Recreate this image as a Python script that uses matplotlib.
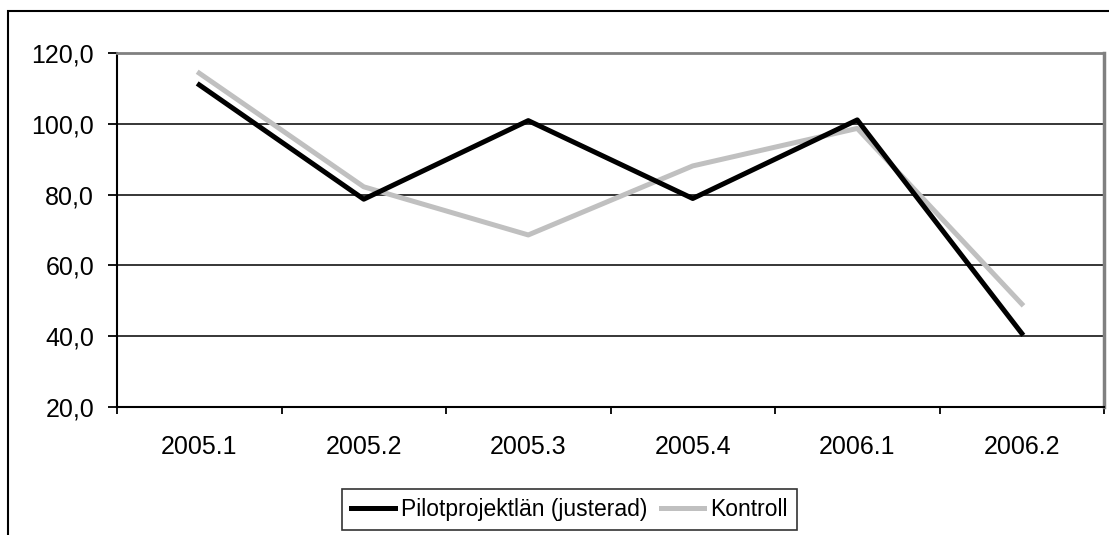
import matplotlib
matplotlib.use("Agg")
import matplotlib.pyplot as plt
from matplotlib.patches import Rectangle
from matplotlib.ticker import FixedLocator, NullFormatter

plt.rcParams['font.family'] = ['Liberation Sans', 'DejaVu Sans']

# kvartal och index per serie
periods = ["2005.1", "2005.2", "2005.3", "2005.4", "2006.1", "2006.2"]
pilot = [111.0, 78.7, 100.9, 78.9, 101.1, 40.8]
kontroll = [114.3, 82.2, 68.6, 88.1, 98.7, 49.1]
yticks = [20, 40, 60, 80, 100, 120]

W, H = 1109, 535
fig = plt.figure(figsize=(W / 100, H / 100), dpi=100)

# ram runt hela diagrammet
fig.patches.append(Rectangle((8 / W, -0.2), 1.2, (H - 11) / H + 0.2, transform=fig.transFigure,
                             fill=False, edgecolor="black", linewidth=1.5))

ax = fig.add_axes([117 / W, (H - 407) / H, 987 / W, 354 / H])

x = [i + 0.5 for i in range(len(periods))]
ax.plot(x, pilot, color="black", linewidth=3.6, label="Pilotprojektlän (justerad)", zorder=3)
ax.plot(x, kontroll, color="#c0c0c0", linewidth=3.6, label="Kontroll", zorder=2)

ax.set_xlim(0, len(periods))
ax.set_ylim(20, 120)
ax.set_yticks(yticks)
ax.set_yticklabels([f"{v:.1f}".replace(".", ",") for v in yticks])
ax.yaxis.grid(True, color="black", linewidth=1.1)
ax.set_axisbelow(True)

# kategorigränser som streck, etiketter i mitten
ax.xaxis.set_major_locator(FixedLocator(range(len(periods) + 1)))
ax.xaxis.set_major_formatter(NullFormatter())
ax.xaxis.set_minor_locator(FixedLocator(x))
ax.set_xticklabels(periods, minor=True)
ax.tick_params(axis="x", which="major", length=5, width=1.3, direction="out")
ax.tick_params(axis="x", which="minor", length=0, pad=20, labelsize=18)
ax.tick_params(axis="y", length=6.5, width=1.3, direction="out", pad=10, labelsize=18)

for s in ("left", "bottom"):
    ax.spines[s].set_color("black")
    ax.spines[s].set_linewidth(1.5)
ax.spines["top"].set_color("#808080")
ax.spines["top"].set_linewidth(2)
ax.spines["right"].set_color("#808080")
ax.spines["right"].set_linewidth(2.5)

leg = fig.legend(loc="upper center", bbox_to_anchor=(569.5 / W, 1 - 489 / H), ncol=2,
                 fontsize=16.5, frameon=True, fancybox=False, edgecolor="black",
                 handlelength=1.9, handletextpad=0.25, columnspacing=0.6,
                 borderpad=0.4, borderaxespad=0)
leg.get_frame().set_linewidth(1.2)

fig.savefig("out.png", dpi=100)
